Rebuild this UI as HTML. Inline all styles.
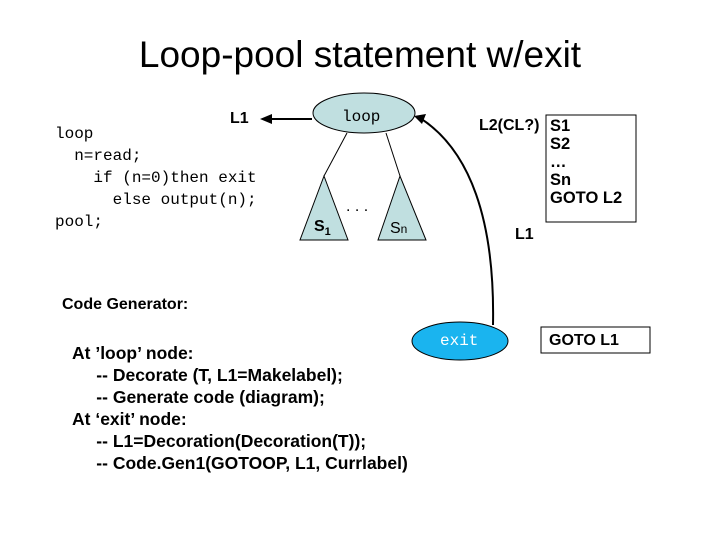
<!DOCTYPE html>
<html><head><style>
body{margin:0;width:720px;height:540px;background:#fff;overflow:hidden;position:relative;font-family:"Liberation Sans",sans-serif}
.t{position:absolute;white-space:pre;color:#000}
.m{font-family:"Liberation Mono",monospace;font-size:16px}
.b{font-weight:bold;font-size:16px}
</style></head><body>
<div class="t" style="left:0;width:720px;text-align:center;top:34px;font-size:37px">Loop-pool statement w/exit</div>
<div class="t m" style="left:55px;top:123px;line-height:22px">loop
  n=read;
    if (n=0)then exit
      else output(n);
pool;</div>
<div class="t b" style="left:230px;top:110px">L1</div>
<svg width="720" height="540" style="position:absolute;left:0;top:0">
<line x1="312" y1="119" x2="268" y2="119" stroke="#000" stroke-width="2"/>
<polygon points="260,119 272,114 272,124" fill="#000"/>
<ellipse cx="364" cy="113" rx="51" ry="20" fill="#c0dfe0" stroke="#000" stroke-width="1"/>
<line x1="347" y1="133" x2="324" y2="176" stroke="#000"/>
<line x1="386" y1="133" x2="400" y2="176" stroke="#000"/>
<polygon points="324,176 300,240 348,240" fill="#c0dfe0" stroke="#000"/>
<polygon points="400,176 378,240 426,240" fill="#c0dfe0" stroke="#000"/>
<path d="M493,325 C495,220 470,150 420,118" fill="none" stroke="#000" stroke-width="2"/>
<polygon points="414,116 426,114 422,124" fill="#000"/>
<rect x="546" y="115" width="90" height="107" fill="none" stroke="#000"/>
<ellipse cx="460" cy="341" rx="48" ry="19" fill="#1ab4ef" stroke="#000"/>
<rect x="541" y="327" width="109" height="26" fill="none" stroke="#000"/>
</svg>
<div class="t m" style="left:342px;top:108px">loop</div>
<div class="t b" style="left:314px;top:218px">S<sub style="font-size:11px">1</sub></div>
<div class="t" style="left:346px;top:198px;font-size:16px">. . .</div>
<div class="t" style="left:390px;top:220px;font-size:16px">S<span style="font-size:12px">n</span></div>
<div class="t b" style="left:479px;top:117px">L2(CL?)</div>
<div class="t b" style="left:550px;top:117px;line-height:18px;font-size:16.5px">S1
S2
…
Sn
GOTO L2</div>
<div class="t b" style="left:515px;top:226px">L1</div>
<div class="t b" style="left:62px;top:296px">Code Generator:</div>
<div class="t m" style="left:440px;top:332px;color:#fff">exit</div>
<div class="t b" style="left:549px;top:332px">GOTO L1</div>
<div class="t b" style="left:72px;top:342px;line-height:22px;font-size:17.5px">At ’loop’ node:
     -- Decorate (T, L1=Makelabel);
     -- Generate code (diagram);
At ‘exit’ node:
     -- L1=Decoration(Decoration(T));
     -- Code.Gen1(GOTOOP, L1, Currlabel)</div>
</body></html>
